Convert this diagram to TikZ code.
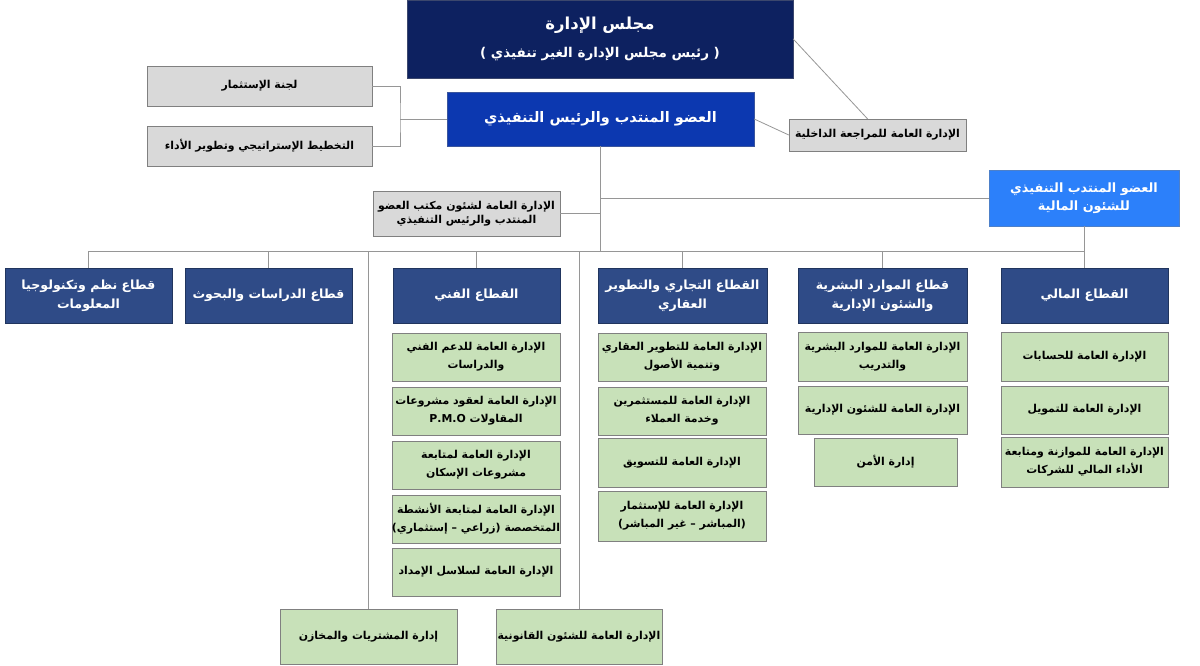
\documentclass[tikz,border=0pt]{standalone}
\usepackage{fontspec}
\newfontfamily\arabicfont[Script=Arabic]{DejaVu Sans}
\TeXXeTstate=1
\newcommand{\artxt}[1]{\beginR #1\endR}

\definecolor{boardnavy}{RGB}{13,33,96}
\definecolor{ceoblue}{RGB}{12,56,176}
\definecolor{cfoblue}{RGB}{44,128,250}
\definecolor{sectnavy}{RGB}{47,75,135}
\definecolor{deptgreen}{RGB}{200,225,185}
\definecolor{boxgray}{RGB}{217,217,217}
\definecolor{linegray}{RGB}{150,150,150}

\tikzset{
	box/.style= {rectangle, inner sep= 0pt, align= center},
	sz/.style 2 args= {minimum width= #1pt, minimum height= #2pt},
	boardbox/.style= {box, fill= boardnavy, draw= boardnavy!60!gray, text= white, font= \arabicfont\bfseries\fontsize{16.5}{28}\selectfont},
	ceobox/.style= {box, fill= ceoblue, draw= ceoblue!60!gray, text= white, font= \arabicfont\bfseries\fontsize{14.5}{18}\selectfont},
	cfobox/.style= {box, fill= cfoblue, draw= cfoblue!60!gray, text= white, font= \arabicfont\bfseries\fontsize{12.8}{18}\selectfont},
	graybox/.style= {box, fill= boxgray, draw= gray, font= \arabicfont\bfseries\fontsize{10.9}{14}\selectfont},
	sectbox/.style= {box, fill= sectnavy, draw= sectnavy!70!black, text= white, font= \arabicfont\bfseries\fontsize{12.6}{19}\selectfont},
	deptbox/.style= {box, fill= deptgreen, draw= gray, font= \arabicfont\bfseries\fontsize{10.9}{18}\selectfont},
	conn/.style= {draw= linegray, line width= 0.8pt}
}

\begin{document}
\begin{tikzpicture}[x= 1pt, y= -1pt]
	\useasboundingbox (0, 0) rectangle (1200, 665);

	\node[boardbox, sz= {386}{78}] (board) at (600, 39) {\artxt{مجلس الإدارة}\\\fontsize{13.5}{15}\selectfont\artxt{( رئيس مجلس الإدارة الغير تنفيذي )}}; %مجلس الإدارة
	\node[ceobox, sz= {307}{54}] (ceo) at (600.5, 119) {\artxt{العضو المنتدب والرئيس التنفيذي}}; %الرئيس التنفيذي
	\node[graybox, sz= {225}{40}] (invest) at (259.5, 86) {\artxt{لجنة الإستثمار}};
	\node[graybox, sz= {225}{40}] (strategy) at (259.5, 146) {\artxt{التخطيط الإستراتيجي وتطوير الأداء}};
	\node[graybox, sz= {177}{32}] (audit) at (877.5, 135) {\artxt{الإدارة العامة للمراجعة الداخلية}};
	\node[graybox, sz= {187}{45}] (office) at (466.5, 213.5) {\artxt{الإدارة العامة لشئون مكتب العضو}\\\artxt{المنتدب والرئيس التنفيذي}};
	\node[cfobox, sz= {190}{56}] (cfo) at (1084, 198) {\artxt{العضو المنتدب التنفيذي}\\\artxt{للشئون المالية}};

	%القطاعات
	\node[sectbox, sz= {167}{55}] (it) at (88.5, 295.5) {\artxt{قطاع نظم وتكنولوجيا}\\\artxt{المعلومات}};
	\node[sectbox, sz= {167}{55}] (studies) at (268.5, 295.5) {\artxt{قطاع الدراسات والبحوث}};
	\node[sectbox, sz= {167}{55}] (tech) at (476.5, 295.5) {\artxt{القطاع الفني}};
	\node[sectbox, sz= {169}{55}] (comm) at (682.5, 295.5) {\artxt{القطاع التجاري والتطوير}\\\artxt{العقاري}};
	\node[sectbox, sz= {169}{55}] (hr) at (882.5, 295.5) {\artxt{قطاع الموارد البشرية}\\\artxt{والشئون الإدارية}};
	\node[sectbox, sz= {167}{55}] (fin) at (1084.5, 295.5) {\artxt{القطاع المالي}};

	%القطاع الفني
	\node[deptbox, sz= {168}{48}] (tech1) at (476, 357) {\artxt{الإدارة العامة للدعم الفني}\\\artxt{والدراسات}};
	\node[deptbox, sz= {168}{48}] (tech2) at (476, 411) {\artxt{الإدارة العامة لعقود مشروعات}\\\artxt{المقاولات \beginL P.M.O\endL}};
	\node[deptbox, sz= {168}{48}] (tech3) at (476, 465) {\artxt{الإدارة العامة لمتابعة}\\\artxt{مشروعات الإسكان}};
	\node[deptbox, sz= {168}{48}] (tech4) at (476, 519) {\artxt{الإدارة العامة لمتابعة الأنشطة}\\\artxt{المتخصصة (زراعي – إستثماري)}};
	\node[deptbox, sz= {168}{48}] (tech5) at (476, 572) {\artxt{الإدارة العامة لسلاسل الإمداد}};

	%القطاع التجاري
	\node[deptbox, sz= {168}{48}] (comm1) at (682, 357) {\artxt{الإدارة العامة للتطوير العقاري}\\\artxt{وتنمية الأصول}};
	\node[deptbox, sz= {168}{48}] (comm2) at (682, 411) {\artxt{الإدارة العامة للمستثمرين}\\\artxt{وخدمة العملاء}};
	\node[deptbox, sz= {168}{49}] (comm3) at (682, 462.5) {\artxt{الإدارة العامة للتسويق}};
	\node[deptbox, sz= {168}{50}] (comm4) at (682, 516) {\artxt{الإدارة العامة للإستثمار}\\\artxt{(المباشر – غير المباشر)}};

	%الموارد البشرية
	\node[deptbox, sz= {169}{49}] (hr1) at (882.5, 356.5) {\artxt{الإدارة العامة للموارد البشرية}\\\artxt{والتدريب}};
	\node[deptbox, sz= {169}{48}] (hr2) at (882.5, 410) {\artxt{الإدارة العامة للشئون الإدارية}};
	\node[deptbox, sz= {143}{48}] (hr3) at (885.5, 462) {\artxt{إدارة الأمن}};

	%القطاع المالي
	\node[deptbox, sz= {167}{49}] (fin1) at (1084.5, 356.5) {\artxt{الإدارة العامة للحسابات}};
	\node[deptbox, sz= {167}{48}] (fin2) at (1084.5, 410) {\artxt{الإدارة العامة للتمويل}};
	\node[deptbox, sz= {167}{50}] (fin3) at (1084.5, 462) {\artxt{الإدارة العامة للموازنة ومتابعة}\\\artxt{الأداء المالي للشركات}};

	\node[deptbox, sz= {177}{55}] (proc) at (368.5, 636.5) {\artxt{إدارة المشتريات والمخازن}};
	\node[deptbox, sz= {166}{55}] (legal) at (579, 636.5) {\artxt{الإدارة العامة للشئون القانونية}};

	%الخطوط
	\coordinate (bracket) at (400, 119);
	\coordinate (bus) at (600.5, 251);
	\draw[conn] (board.east) -- ([xshift= -10pt]audit.north); %مجلس - مراجعة
	\draw[conn] (ceo.east) -- (audit.west);
	\draw[conn] (invest.east) -| (bracket) |- (strategy.east); %اللجان
	\draw[conn] (bracket) -- (ceo.west);
	\draw[conn] (ceo.south) -- (bus);
	\draw[conn] (office.east) -- (office.east -| bus);
	\draw[conn] (cfo.west) -- (cfo.west -| bus);
	\draw[conn] (cfo.south) -- (cfo.south |- bus);
	\draw[conn] (it.north |- bus) -- (cfo.south |- bus); %الخط الأفقي
	\draw[conn] (it.north |- bus) -- (it.north);
	\draw[conn] (studies.north |- bus) -- (studies.north);
	\draw[conn] (tech.north |- bus) -- (tech.north);
	\draw[conn] (comm.north |- bus) -- (comm.north);
	\draw[conn] (hr.north |- bus) -- (hr.north);
	\draw[conn] (fin.north |- bus) -- (fin.north);
	\draw[conn] (proc.north |- bus) -- (proc.north); %المشتريات
	\draw[conn] (legal.north |- bus) -- (legal.north); %القانونية
\end{tikzpicture}
\end{document}
